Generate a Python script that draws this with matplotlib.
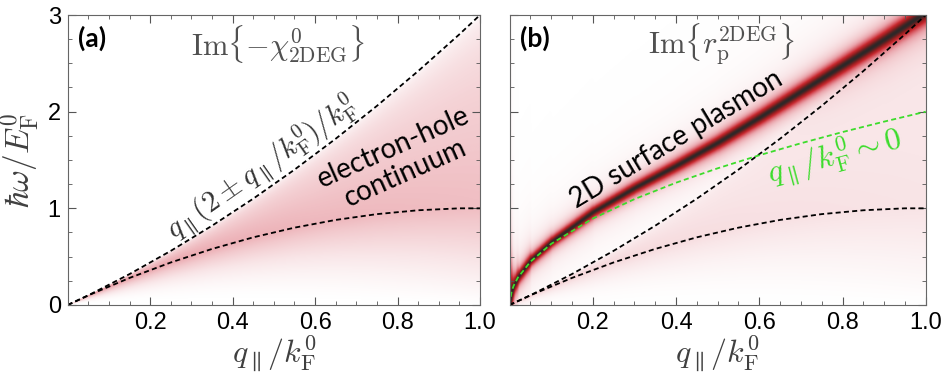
import numpy as np
import matplotlib
matplotlib.use('Agg')
import matplotlib.pyplot as plt
from matplotlib.colors import LinearSegmentedColormap
from matplotlib.ticker import MultipleLocator

plt.rcParams['mathtext.fontset'] = 'cm'
plt.rcParams['font.family'] = ['Liberation Sans', 'DejaVu Sans']

# Continuum edges (q in k_F, hbar*omega in E_F)
q_edge = [0.0, 0.05, 0.1, 0.15, 0.2, 0.25, 0.3, 0.35, 0.4, 0.45, 0.5,
          0.55, 0.6, 0.65, 0.7, 0.75, 0.8, 0.85, 0.9, 0.95, 1.0]
upper_edge = [0.0, 0.10, 0.21, 0.32, 0.44, 0.56, 0.69, 0.82, 0.96, 1.10, 1.25,
              1.40, 1.56, 1.72, 1.89, 2.06, 2.24, 2.42, 2.61, 2.80, 3.0]
lower_edge = [0.0, 0.10, 0.19, 0.28, 0.36, 0.44, 0.51, 0.58, 0.64, 0.70, 0.75,
              0.80, 0.84, 0.88, 0.91, 0.94, 0.96, 0.98, 0.99, 1.0, 1.0]

# Shade level of the continuum along its lower edge (0 = white, 1 = black)
q_level = [0.0, 0.05, 0.1, 0.2, 0.4, 0.6, 0.8, 1.0]
cont_level = [0.38, 0.36, 0.33, 0.30, 0.27, 0.25, 0.24, 0.23]

# Plasmon ridge in panel (b)
q_plasmon = [0.0, 0.005, 0.01, 0.02, 0.05, 0.1, 0.2, 0.3, 0.4, 0.5,
             0.6, 0.7, 0.8, 0.9, 1.0]
w_plasmon = [0.0, 0.14, 0.20, 0.285, 0.46, 0.65, 0.96, 1.21, 1.44, 1.68,
             1.94, 2.21, 2.48, 2.75, 3.03]

# Small-q approximation (green)
q_small = [0.0, 0.005, 0.01, 0.02, 0.05, 0.1, 0.2, 0.3, 0.4, 0.5,
           0.6, 0.7, 0.8, 0.9, 1.0]
w_small = [0.0, 0.141, 0.20, 0.283, 0.447, 0.632, 0.894, 1.095, 1.265, 1.414,
           1.549, 1.673, 1.789, 1.897, 2.0]

cmap = LinearSegmentedColormap.from_list('wrk', [
    (0.0, '#ffffff'), (0.1, '#f9e6e8'), (0.2, '#f2c8cc'), (0.3, '#eaa5ac'),
    (0.45, '#da626b'), (0.6, '#c8282e'), (0.8, '#8a1e1e'), (1.0, '#2d2828')])

# shading fields built from the edges above
qg = np.linspace(0.0005, 1, 500)
wg = np.linspace(0, 3, 600)
Q, W = np.meshgrid(qg, wg)
lo = np.interp(Q, q_edge, lower_edge)
up = np.interp(Q, q_edge, upper_edge)
lvl = np.interp(Q, q_level, cont_level)
t = (W - lo) / (up - lo)
p = 1.0 + 1.8 * (1 - Q)
inside = np.clip(1 - t, 0, 1) ** 0.35
below = np.clip(W / lo, 0, 1) ** p
field_a = lvl * np.where(t < 0, below, inside)

px_w, px_q = 96.67, 416.2
rid = np.interp(qg, q_plasmon, w_plasmon)
slope = np.gradient(rid, qg) * px_w / px_q
d_px = (W - rid[None, :]) * px_w / np.sqrt(1 + slope[None, :] ** 2)
w_px = 3.4 + 4.0 * Q
ridge = (1.0 / (1 + (d_px / w_px) ** 2)) ** 0.85
field_b = np.clip(ridge + 0.45 * field_a, 0, 1)

fig = plt.figure(figsize=(9.46, 3.75), dpi=100)
ax1 = fig.add_axes([0.0716, 0.1867, 0.4358, 0.7733])
ax2 = fig.add_axes([0.5386, 0.1867, 0.4400, 0.7733])

dash = (0, (2.8, 1.8))
for ax, field in [(ax1, field_a), (ax2, field_b)]:
    ax.imshow(field, extent=[0, 1, 0, 3], origin='lower', aspect='auto',
              cmap=cmap, vmin=0, vmax=1, interpolation='bilinear')
    ax.plot(q_edge, upper_edge, color='black', lw=1.3, ls=dash)
    ax.plot(q_edge, lower_edge, color='black', lw=1.3, ls=dash)
    ax.set_xlim(0, 1)
    ax.set_ylim(0, 3)
    ax.set_xticks([0.2, 0.4, 0.6, 0.8, 1.0])
    ax.set_xticklabels(['0.2', '0.4', '0.6', '0.8', '1.0'])
    ax.xaxis.set_minor_locator(MultipleLocator(0.05))
    ax.set_yticks([0, 1, 2, 3])
    ax.yaxis.set_minor_locator(MultipleLocator(0.25))
    ax.tick_params(which='both', direction='in', top=True, right=True,
                   color='#555555', labelsize=17, pad=5)
    ax.tick_params(which='major', length=6)
    ax.tick_params(which='minor', length=3)
    for s in ax.spines.values():
        s.set_color('#666666')
    ax.set_xlabel(r'$q_{\parallel}/k_{\rm F}^0$', fontsize=23, color='#404040',
                  labelpad=0)

ax2.plot(q_small, w_small, color='#3ddc2c', lw=1.3, ls=dash)
ax2.set_yticklabels([])

ax1.set_ylabel(r'$\hbar\omega/E_{\rm F}^0$', fontsize=24, color='#404040',
               labelpad=4)

ax1.text(0.025, 0.92, '(a)', transform=ax1.transAxes, fontsize=19,
         fontweight='bold', family='Lato', va='center')
ax2.text(0.025, 0.92, '(b)', transform=ax2.transAxes, fontsize=19,
         fontweight='bold', family='Lato', va='center')
ax1.text(0.51, 0.90, r'$\mathrm{Im}\{-\chi^0_{\rm 2DEG}\}$', transform=ax1.transAxes,
         fontsize=22, color='#505050', ha='center', va='center')
ax2.text(0.51, 0.90, r'$\mathrm{Im}\{r_{\rm p}^{\rm 2DEG}\}$', transform=ax2.transAxes,
         fontsize=22, color='#505050', ha='center', va='center')

ax1.text(0.47, 1.42, r'$q_{\parallel}(2\pm q_{\parallel}/k_{\rm F}^0)/k_{\rm F}^0$',
         fontsize=21, color='#333333', rotation=35, rotation_mode='anchor',
         ha='center', va='center')
ax1.text(0.805, 1.50, 'electron-hole\ncontinuum', family='Lato', fontsize=20,
         rotation=24, rotation_mode='anchor', ha='center', va='center',
         linespacing=1.1)
ax2.text(0.40, 1.71, '2D surface plasmon', family='Lato', fontsize=20,
         rotation=31, rotation_mode='anchor', ha='center', va='center')
ax2.text(0.78, 1.53, r'$q_{\parallel}/k_{\rm F}^0\sim 0$', fontsize=23,
         color='#3ddc2c', rotation=15, rotation_mode='anchor',
         ha='center', va='center')

fig.savefig('out.png', dpi=100)
